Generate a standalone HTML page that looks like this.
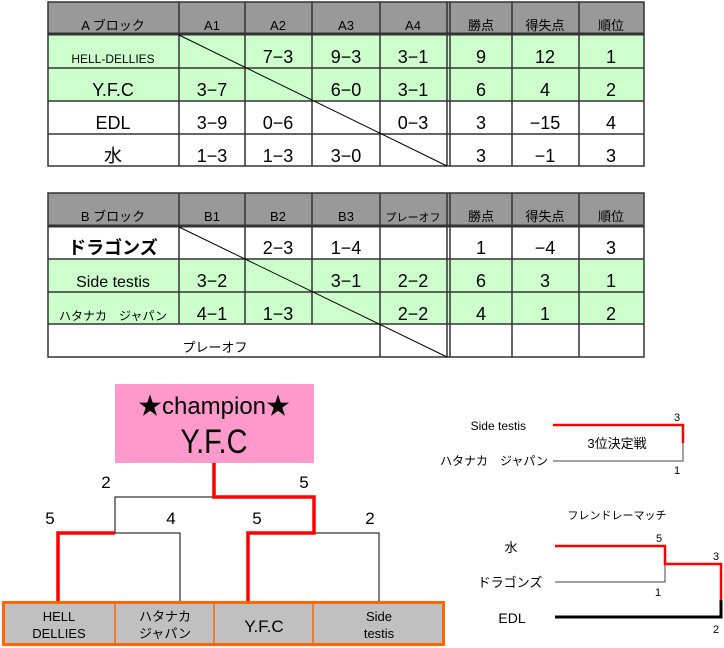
<!DOCTYPE html>
<html><head><meta charset="utf-8"><style>
html,body{margin:0;padding:0;background:#fff;width:724px;height:648px;overflow:hidden}
svg{display:block}
text{font-family:"Liberation Sans","Noto Sans CJK JP",sans-serif;fill:#000}
</style></head><body>
<svg width="724" height="648" viewBox="0 0 724 648" xmlns="http://www.w3.org/2000/svg">
<!-- Table A -->
<rect x="48" y="2" width="596" height="32" fill="#999"/>
<rect x="48" y="35" width="596" height="66" fill="#ccffcc"/>
<g stroke="#333" stroke-width="1.5" fill="none">
<rect x="48" y="2" width="596" height="164"/>
<line x1="48" y1="34" x2="644" y2="34" stroke-width="3"/>
<line x1="48" y1="68" x2="644" y2="68"/>
<line x1="48" y1="101" x2="644" y2="101"/>
<line x1="48" y1="134" x2="644" y2="134"/>
<line x1="179" y1="2" x2="179" y2="166"/>
<line x1="245" y1="2" x2="245" y2="166"/>
<line x1="312" y1="2" x2="312" y2="166"/>
<line x1="380" y1="2" x2="380" y2="166"/>
<line x1="447" y1="2" x2="447" y2="166"/>
<line x1="450" y1="2" x2="450" y2="166"/>
<line x1="512" y1="2" x2="512" y2="166"/>
<line x1="579" y1="2" x2="579" y2="166"/>
<line x1="179" y1="35" x2="447" y2="166" stroke="#000" stroke-width="1"/>
</g>
<g font-size="13" text-anchor="middle">
<text x="113" y="30">A ブロック</text><text x="212" y="30">A1</text><text x="278" y="30">A2</text><text x="346" y="30">A3</text><text x="413" y="30">A4</text>
<text x="481" y="30">勝点</text><text x="545" y="30">得失点</text><text x="611" y="30">順位</text>
</g>
<g font-size="18" text-anchor="middle">
<text x="113" y="63" font-size="12">HELL-DELLIES</text><text x="278" y="63">7−3</text><text x="346" y="63">9−3</text><text x="413" y="63">3−1</text><text x="481" y="63">9</text><text x="545" y="63">12</text><text x="611" y="63">1</text>
<text x="113" y="96">Y.F.C</text><text x="212" y="96">3−7</text><text x="346" y="96">6−0</text><text x="413" y="96">3−1</text><text x="481" y="96">6</text><text x="545" y="96">4</text><text x="611" y="96">2</text>
<text x="113" y="129">EDL</text><text x="212" y="129">3−9</text><text x="278" y="129">0−6</text><text x="413" y="129">0−3</text><text x="481" y="129">3</text><text x="545" y="129">−15</text><text x="611" y="129">4</text>
<text x="113" y="162">水</text><text x="212" y="162">1−3</text><text x="278" y="162">1−3</text><text x="346" y="162">3−0</text><text x="481" y="162">3</text><text x="545" y="162">−1</text><text x="611" y="162">3</text>
</g>
<!-- Table B -->
<rect x="48" y="193" width="596" height="33" fill="#999"/>
<rect x="48" y="259" width="596" height="65" fill="#ccffcc"/>
<g stroke="#333" stroke-width="1.5" fill="none">
<rect x="48" y="193" width="596" height="164"/>
<line x1="48" y1="226" x2="644" y2="226" stroke-width="3"/>
<line x1="48" y1="259" x2="644" y2="259"/>
<line x1="48" y1="292" x2="644" y2="292"/>
<line x1="48" y1="324" x2="644" y2="324"/>
<line x1="179" y1="193" x2="179" y2="324"/>
<line x1="245" y1="193" x2="245" y2="324"/>
<line x1="312" y1="193" x2="312" y2="324"/>
<line x1="380" y1="193" x2="380" y2="357"/>
<line x1="447" y1="193" x2="447" y2="357"/>
<line x1="450" y1="193" x2="450" y2="357"/>
<line x1="512" y1="193" x2="512" y2="357"/>
<line x1="579" y1="193" x2="579" y2="357"/>
<line x1="179" y1="227" x2="447" y2="357" stroke="#000" stroke-width="1"/>
</g>
<g font-size="13" text-anchor="middle">
<text x="113" y="221">B ブロック</text><text x="212" y="221">B1</text><text x="278" y="221">B2</text><text x="346" y="221">B3</text><text x="413" y="221" font-size="11">プレーオフ</text>
<text x="481" y="221">勝点</text><text x="545" y="221">得失点</text><text x="611" y="221">順位</text>
<text x="215" y="352">プレーオフ</text>
</g>
<g font-size="18" text-anchor="middle">
<text x="113" y="254" font-weight="bold">ドラゴンズ</text><text x="278" y="254">2−3</text><text x="346" y="254">1−4</text><text x="481" y="254">1</text><text x="545" y="254">−4</text><text x="611" y="254">3</text>
<text x="113" y="287" font-size="16">Side testis</text><text x="212" y="287">3−2</text><text x="346" y="287">3−1</text><text x="413" y="287">2−2</text><text x="481" y="287">6</text><text x="545" y="287">3</text><text x="611" y="287">1</text>
<text x="113" y="320" font-size="12">ハタナカ　ジャパン</text><text x="212" y="320">4−1</text><text x="278" y="320">1−3</text><text x="413" y="320">2−2</text><text x="481" y="320">4</text><text x="545" y="320">1</text><text x="611" y="320">2</text>
</g>
<!-- Champion -->
<rect x="115" y="384" width="199" height="79" fill="#ff99cc"/>
<text x="214" y="414" font-size="24" text-anchor="middle">★champion★</text>
<text transform="translate(214,453) scale(0.85,1)" font-size="34" text-anchor="middle">Y.F.C</text>
<!-- bracket black -->
<g stroke="#000" stroke-width="1" fill="none">
<polyline points="214,497 115,497 115,533 180,533 180,602"/>
<polyline points="314,533 379,533 379,602"/>
</g>
<g stroke="#f00" stroke-width="3.5" fill="none">
<polyline points="214,463 214,497 314,497 314,533 248,533 248,602"/>
<polyline points="115,533 58,533 58,602"/>
</g>
<g font-size="17" text-anchor="middle">
<text x="106" y="488">2</text><text x="304" y="488">5</text>
<text x="50" y="524">5</text><text x="171" y="524">4</text><text x="257" y="524">5</text><text x="370" y="524">2</text>
</g>
<!-- bottom boxes -->
<rect x="3.5" y="602.5" width="440" height="42" fill="#c0c0c0" stroke="#ff6600" stroke-width="3"/>
<g stroke="#ff6600" stroke-width="1.5"><line x1="115" y1="602" x2="115" y2="645"/><line x1="214" y1="602" x2="214" y2="645"/><line x1="313" y1="602" x2="313" y2="645"/></g>
<g font-size="13" text-anchor="middle">
<text x="59" y="621">HELL</text><text x="59" y="638">DELLIES</text>
<text x="165" y="621">ハタナカ</text><text x="165" y="638">ジャパン</text>
<text x="264" y="632" font-size="17">Y.F.C</text>
<text x="379" y="621">Side</text><text x="379" y="638">testis</text>
</g>
<!-- 3rd place -->
<text x="526" y="430" font-size="12" text-anchor="end">Side testis</text>
<text x="548" y="465" font-size="12" text-anchor="end">ハタナカ　ジャパン</text>
<polyline points="553,461 683,461 683,443" stroke="#444" stroke-width="1" fill="none"/>
<polyline points="553,425 683,425 683,443" stroke="#f00" stroke-width="2.5" fill="none"/>
<text x="617" y="448" font-size="13" text-anchor="middle">3位決定戦</text>
<text x="677" y="421" font-size="11" text-anchor="middle">3</text>
<text x="677" y="474" font-size="11" text-anchor="middle">1</text>
<!-- friendly -->
<text x="617" y="519" font-size="11" text-anchor="middle">フレンドレーマッチ</text>
<text x="511" y="552" font-size="13" text-anchor="middle">水</text>
<text x="510" y="587" font-size="13" text-anchor="middle">ドラゴンズ</text>
<text x="512" y="623" font-size="14" text-anchor="middle">EDL</text>
<polyline points="555,582 665,582 665,564" stroke="#444" stroke-width="1" fill="none"/>
<polyline points="555,617 721,617 721,600" stroke="#000" stroke-width="3" fill="none"/>
<polyline points="555,546 665,546 665,564 721,564 721,600" stroke="#f00" stroke-width="2.5" fill="none"/>
<text x="659" y="542" font-size="11" text-anchor="middle">5</text>
<text x="716" y="560" font-size="11" text-anchor="middle">3</text>
<text x="658" y="596" font-size="11" text-anchor="middle">1</text>
<text x="716" y="633" font-size="11" text-anchor="middle">2</text>
</svg>
</body></html>
